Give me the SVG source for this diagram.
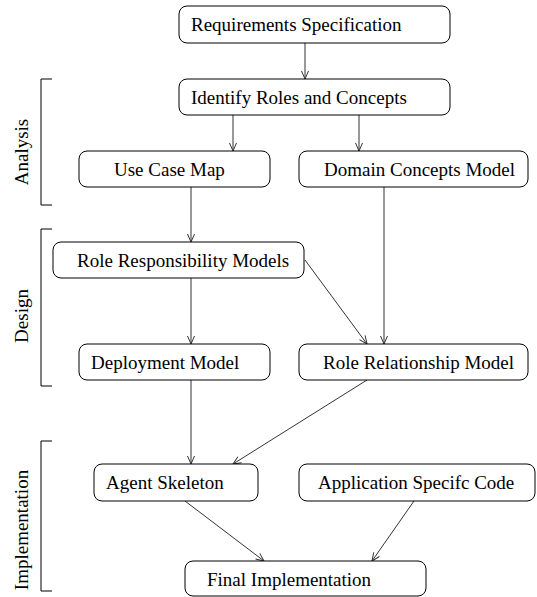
<svg xmlns="http://www.w3.org/2000/svg" width="537" height="597" viewBox="0 0 537 597">
<style>
.box{fill:#fff;stroke:#000;stroke-width:1}
.t{font-family:"Liberation Serif","Times New Roman",serif;font-size:19px;fill:#000}
.c{stroke:#333;stroke-width:1;fill:none;marker-end:url(#ah)}
.br{stroke:#000;stroke-width:1;fill:none}
</style>
<defs>
<marker id="ah" markerWidth="10" markerHeight="10" refX="9" refY="4" orient="auto" markerUnits="userSpaceOnUse">
<path d="M1,0.5 L9,4 L1,7.5" fill="none" stroke="#333" stroke-width="1"/>
</marker>
</defs>
<rect width="537" height="597" fill="#fff"/>
<g id="phases">
<path class="br" d="M52,79 H41 V205 H52"/>
<text class="t" text-anchor="middle" transform="translate(28,152) rotate(-90)">Analysis</text>
<path class="br" d="M52,229 H41 V386 H52"/>
<text class="t" text-anchor="middle" transform="translate(28,316) rotate(-90)">Design</text>
<path class="br" d="M52,441 H41 V591 H52"/>
<text class="t" text-anchor="middle" transform="translate(28,530) rotate(-90)">Implementation</text>
</g>
<g id="connectors">
<line class="c" x1="305" y1="43" x2="305" y2="79"/>
<line class="c" x1="233" y1="115" x2="233" y2="151"/>
<line class="c" x1="359" y1="115" x2="359" y2="151"/>
<line class="c" x1="191" y1="187" x2="191" y2="242"/>
<line class="c" x1="384" y1="187" x2="384" y2="344"/>
<line class="c" x1="305" y1="260" x2="367" y2="344"/>
<line class="c" x1="191" y1="278" x2="191" y2="344"/>
<line class="c" x1="191" y1="380" x2="191" y2="464"/>
<line class="c" x1="367" y1="380" x2="233" y2="464"/>
<line class="c" x1="185" y1="501" x2="264" y2="561"/>
<line class="c" x1="414" y1="501" x2="372" y2="561"/>
</g>
<g id="requirements">
<rect class="box" x="179" y="6" width="271" height="37" rx="8"/>
<text class="t" x="191" y="31">Requirements Specification</text>
</g>
<g id="identify">
<rect class="box" x="179" y="79" width="271" height="36" rx="8"/>
<text class="t" x="191" y="104">Identify Roles and Concepts</text>
</g>
<g id="usecase">
<rect class="box" x="79" y="151" width="191" height="36" rx="8"/>
<text class="t" x="114" y="176">Use Case Map</text>
</g>
<g id="domain">
<rect class="box" x="299" y="151" width="229" height="36" rx="8"/>
<text class="t" x="324" y="176">Domain Concepts Model</text>
</g>
<g id="roleresp">
<rect class="box" x="53" y="242" width="251" height="36" rx="8"/>
<text class="t" x="77" y="267">Role Responsibility Models</text>
</g>
<g id="deployment">
<rect class="box" x="79" y="344" width="191" height="36" rx="8"/>
<text class="t" x="91" y="369">Deployment Model</text>
</g>
<g id="rolerel">
<rect class="box" x="299" y="344" width="229" height="36" rx="8"/>
<text class="t" x="323" y="369">Role Relationship Model</text>
</g>
<g id="agent">
<rect class="box" x="94" y="464" width="164" height="37" rx="8"/>
<text class="t" x="106" y="489">Agent Skeleton</text>
</g>
<g id="appcode">
<rect class="box" x="299" y="464" width="236" height="37" rx="8"/>
<text class="t" x="318" y="489">Application Specifc Code</text>
</g>
<g id="final">
<rect class="box" x="185" y="561" width="241" height="35" rx="8"/>
<text class="t" x="207" y="586">Final Implementation</text>
</g>
</svg>
